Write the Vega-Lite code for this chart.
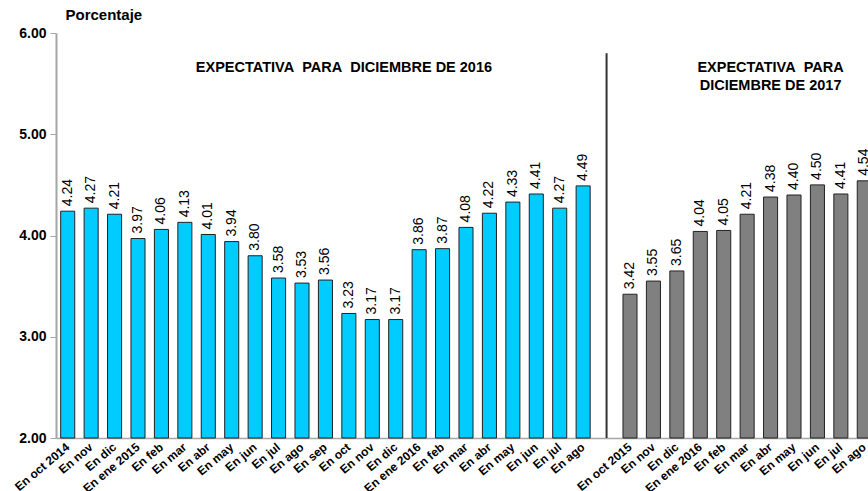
{
  "$schema": "https://vega.github.io/schema/vega-lite/v6.json",
  "autosize": "none",
  "width": 820,
  "height": 405,
  "padding": {"left": 56, "top": 33, "right": 0, "bottom": 53},
  "background": "white",
  "config": {"view": {"stroke": null}, "font": "Liberation Sans"},
  "datasets": {
    "bars": [
      {"k": "a01|En oct 2014", "v": 4.24, "g": "2016"},
      {"k": "a02|En nov", "v": 4.27, "g": "2016"},
      {"k": "a03|En dic", "v": 4.21, "g": "2016"},
      {"k": "a04|En ene 2015", "v": 3.97, "g": "2016"},
      {"k": "a05|En feb", "v": 4.06, "g": "2016"},
      {"k": "a06|En mar", "v": 4.13, "g": "2016"},
      {"k": "a07|En abr", "v": 4.01, "g": "2016"},
      {"k": "a08|En may", "v": 3.94, "g": "2016"},
      {"k": "a09|En jun", "v": 3.80, "g": "2016"},
      {"k": "a10|En jul", "v": 3.58, "g": "2016"},
      {"k": "a11|En ago", "v": 3.53, "g": "2016"},
      {"k": "a12|En sep", "v": 3.56, "g": "2016"},
      {"k": "a13|En oct", "v": 3.23, "g": "2016"},
      {"k": "a14|En nov", "v": 3.17, "g": "2016"},
      {"k": "a15|En dic", "v": 3.17, "g": "2016"},
      {"k": "a16|En ene 2016", "v": 3.86, "g": "2016"},
      {"k": "a17|En feb", "v": 3.87, "g": "2016"},
      {"k": "a18|En mar", "v": 4.08, "g": "2016"},
      {"k": "a19|En abr", "v": 4.22, "g": "2016"},
      {"k": "a20|En may", "v": 4.33, "g": "2016"},
      {"k": "a21|En jun", "v": 4.41, "g": "2016"},
      {"k": "a22|En jul", "v": 4.27, "g": "2016"},
      {"k": "a23|En ago", "v": 4.49, "g": "2016"},
      {"k": "a24|", "v": null, "g": "gap"},
      {"k": "b01|En oct 2015", "v": 3.42, "g": "2017"},
      {"k": "b02|En nov", "v": 3.55, "g": "2017"},
      {"k": "b03|En dic", "v": 3.65, "g": "2017"},
      {"k": "b04|En ene 2016", "v": 4.04, "g": "2017"},
      {"k": "b05|En feb", "v": 4.05, "g": "2017"},
      {"k": "b06|En mar", "v": 4.21, "g": "2017"},
      {"k": "b07|En abr", "v": 4.38, "g": "2017"},
      {"k": "b08|En may", "v": 4.40, "g": "2017"},
      {"k": "b09|En jun", "v": 4.50, "g": "2017"},
      {"k": "b10|En jul", "v": 4.41, "g": "2017"},
      {"k": "b11|En ago", "v": 4.54, "g": "2017"}
    ],
    "notes": [
      {"k": "a13|En oct", "y": 5.655, "t": "EXPECTATIVA\u00a0\u00a0PARA\u00a0\u00a0DICIEMBRE DE 2016", "b": 0.25},
      {"k": "b07|En abr", "y": 5.655, "t": "EXPECTATIVA\u00a0\u00a0PARA", "b": 0.5},
      {"k": "b07|En abr", "y": 5.48, "t": "DICIEMBRE DE 2017", "b": 0.5}
    ],
    "sep": [{"k": "a24|", "y": 5.8, "y2": 2.0}]
  },
  "layer": [
    {
      "data": {"name": "bars"},
      "transform": [{"filter": "datum.v != null"}],
      "mark": {"type": "bar", "stroke": "#222222", "strokeWidth": 1},
      "encoding": {
        "x": {
          "field": "k", "type": "nominal", "sort": null,
          "scale": {"paddingInner": 0.4, "paddingOuter": 0.2, "domain": ["a01|En oct 2014","a02|En nov","a03|En dic","a04|En ene 2015","a05|En feb","a06|En mar","a07|En abr","a08|En may","a09|En jun","a10|En jul","a11|En ago","a12|En sep","a13|En oct","a14|En nov","a15|En dic","a16|En ene 2016","a17|En feb","a18|En mar","a19|En abr","a20|En may","a21|En jun","a22|En jul","a23|En ago","a24|","b01|En oct 2015","b02|En nov","b03|En dic","b04|En ene 2016","b05|En feb","b06|En mar","b07|En abr","b08|En may","b09|En jun","b10|En jul","b11|En ago"]},
          "axis": {
            "title": null,
            "labelExpr": "split(datum.label, '|')[1]",
            "labelAngle": -40,
            "labelAlign": "right",
            "labelBaseline": "middle",
            "labelFontWeight": "bold",
            "labelFontSize": 12,
            "labelColor": "#000000",
            "labelPadding": 7,
            "labelOverlap": false,
            "ticks": false,
            "domainColor": "#A6A6A6",
            "domainWidth": 1.5
          }
        },
        "y": {
          "field": "v", "type": "quantitative",
          "scale": {"domain": [2, 6], "nice": false, "zero": false},
          "axis": {
            "title": "Porcentaje",
            "titleAngle": 0,
            "titleX": 9,
            "titleY": -19,
            "titleAlign": "left",
            "titleBaseline": "middle",
            "titleFontSize": 15,
            "titleFontWeight": "bold",
            "titleColor": "#000000",
            "values": [2, 3, 4, 5, 6],
            "format": ".2f",
            "labelFontWeight": "bold",
            "labelFontSize": 14,
            "labelColor": "#000000",
            "labelPadding": 4,
            "grid": false,
            "domainColor": "#A6A6A6",
            "domainWidth": 2,
            "tickColor": "#A6A6A6",
            "tickSize": 6
          }
        },
        "y2": {"datum": 2},
        "color": {
          "field": "g", "type": "nominal",
          "scale": {"domain": ["2016", "2017"], "range": ["#00CCFF", "#808080"]},
          "legend": null
        }
      }
    },
    {
      "data": {"name": "bars"},
      "transform": [{"filter": "datum.v != null"}],
      "mark": {"type": "text", "angle": 270, "align": "left", "baseline": "middle", "dx": 5, "fontSize": 14, "color": "#000000"},
      "encoding": {
        "x": {"field": "k", "type": "nominal", "sort": null},
        "y": {"field": "v", "type": "quantitative"},
        "text": {"field": "v", "type": "quantitative", "format": ".2f"}
      }
    },
    {
      "data": {"name": "sep"},
      "mark": {"type": "rule", "color": "#333333", "strokeWidth": 2},
      "encoding": {
        "x": {"field": "k", "type": "nominal", "sort": null},
        "y": {"field": "y", "type": "quantitative"},
        "y2": {"field": "y2"}
      }
    },
    {
      "data": {"name": "notes"},
      "transform": [{"filter": "datum.b == 0.25"}],
      "mark": {"type": "text", "fontSize": 14.5, "fontWeight": "bold", "color": "#000000", "align": "center", "baseline": "middle"},
      "encoding": {
        "x": {"field": "k", "type": "nominal", "sort": null, "bandPosition": 0.15},
        "y": {"field": "y", "type": "quantitative"},
        "text": {"field": "t"}
      }
    },
    {
      "data": {"name": "notes"},
      "transform": [{"filter": "datum.b == 0.5"}],
      "mark": {"type": "text", "fontSize": 14.5, "fontWeight": "bold", "color": "#000000", "align": "center", "baseline": "middle"},
      "encoding": {
        "x": {"field": "k", "type": "nominal", "sort": null},
        "y": {"field": "y", "type": "quantitative"},
        "text": {"field": "t"}
      }
    }
  ]
}
